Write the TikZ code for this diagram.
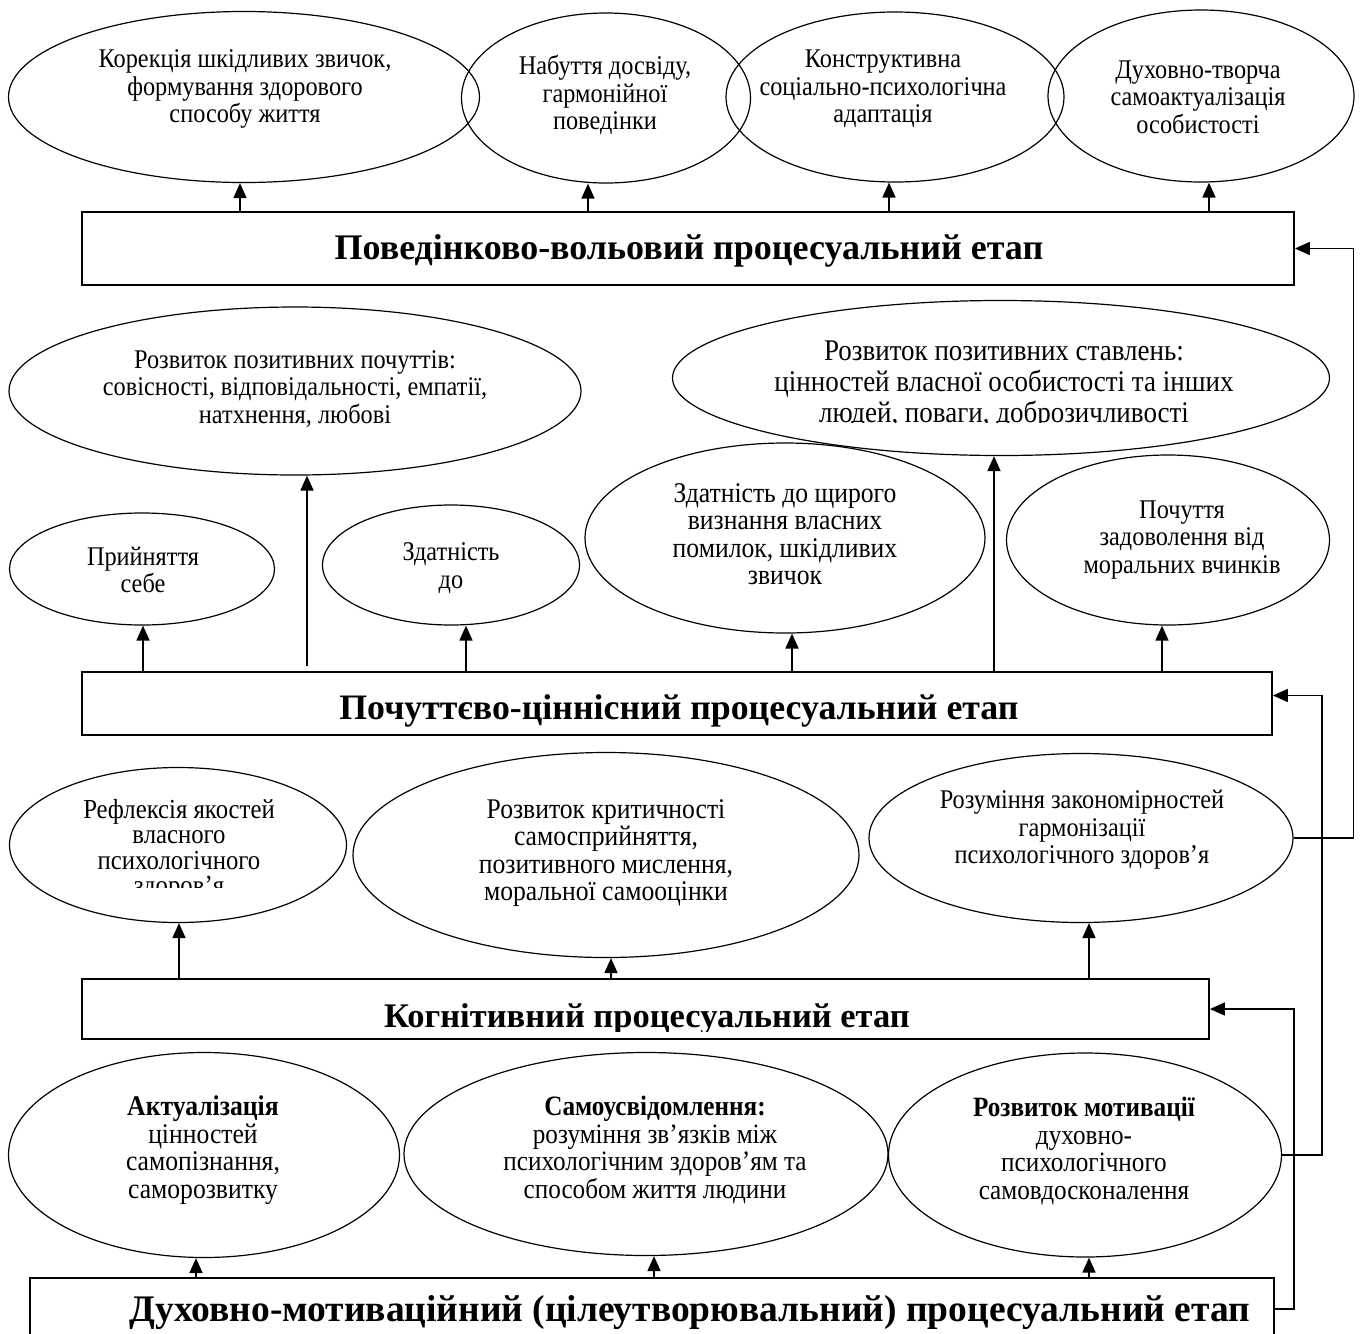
\documentclass[tikz,border=0pt]{standalone}
\usepackage{fontspec}
\setmainfont{Liberation Serif}
\newfontfamily\ellfont{Liberation Serif}[FakeStretch=0.9]
\usetikzlibrary{shapes.geometric,arrows.meta,calc}
\begin{document}
\begin{tikzpicture}[x=1pt,y=-1pt,
  ell/.style={draw, ellipse, line width=1.2pt, inner sep=0pt},
  txt/.style={align=center, font=\ellfont\fontsize{27}{27.5}\selectfont, inner sep=0pt},
  bigtxt/.style={align=center, font=\ellfont\fontsize{28.5}{27.5}\selectfont, inner sep=0pt},
  stagebox/.style={draw, rectangle, line width=1.8pt, inner sep=0pt},
  ttl/.style={inner sep=0pt, anchor=base},
  arr/.style={line width=1.7pt, -{Triangle[length=15pt,width=13pt]}}
]
\useasboundingbox (0,0) rectangle (1361,1334);

% ---------- stage boxes ----------
\node[stagebox, minimum width=1212pt, minimum height=73pt] (b1) at (688,248.5) {};
\node[stagebox, minimum width=1190pt, minimum height=63pt] (b2) at (677,703.5) {};
\node[stagebox, minimum width=1127pt, minimum height=60pt] (b3) at (645.5,1009) {};
\node[stagebox, minimum width=1244pt, minimum height=62pt] (b4) at (652,1309) {};

\node[ttl, font=\fontsize{36}{40}\selectfont\bfseries] (t1) at (689,259) {Поведінково-вольовий процесуальний етап};
\node[ttl, font=\fontsize{35.8}{40}\selectfont\bfseries] (t2) at (679,719) {Почуттєво-ціннісний процесуальний етап};
\begin{scope}
\clip (82,979) rectangle (1209,1031);
\node[ttl, font=\fontsize{34.5}{40}\selectfont\bfseries] (t3) at (647,1027) {Когнітивний процесуальний етап};
\end{scope}
\node[ttl, font=\fontsize{37.5}{40}\selectfont\bfseries] (t4) at (690,1321) {Духовно-мотиваційний (цілеутворювальний) процесуальний етап};

% ---------- row 1 ----------
\node[ell, minimum width=471pt, minimum height=171pt] (e1) at (244,97) {};
\node[ell, minimum width=289pt, minimum height=170pt] (e2) at (606,98) {};
\node[ell, minimum width=338pt, minimum height=170pt] (e3) at (895,97) {};
\node[ell, minimum width=306pt, minimum height=172pt] (e4) at (1201,96) {};
\node[txt] (x1) at (245,89) {Корекція шкідливих звичок,\\формування здорового\\способу життя};
\node[txt] (x2) at (605,95) {Набуття досвіду,\\гармонійної\\поведінки};
\node[txt] (x3) at (883,89) {Конструктивна\\соціально-психологічна\\адаптація};
\node[txt] (x4) at (1198,97) {Духовно-творча\\самоактуалізація\\особистості};

% ---------- row 2 ----------
\node[ell, minimum width=572pt, minimum height=168pt] (e5) at (295,391) {};
\node[ell, minimum width=657pt, minimum height=155pt] (e6) at (1001,378) {};
\node[ell, minimum width=265pt, minimum height=112pt] (e7) at (142,569) {};
\node[ell, minimum width=257pt, minimum height=120pt] (e8) at (451,565) {};
\node[ell, minimum width=400pt, minimum height=190pt] (e9) at (785,538) {};
\node[ell, minimum width=323pt, minimum height=170pt] (e10) at (1168,540) {};
\node[txt] (x5) at (295,389) {Розвиток позитивних почуттів:\\совісності, відповідальності, емпатії,\\натхнення, любові};
\begin{scope}
\clip (600,290) rectangle (1400,422);
\node[txt, font=\ellfont\fontsize{30}{31}\selectfont] (x6) at (1004,385) {Розвиток позитивних ставлень:\\цінностей власної особистості та інших\\людей, поваги, доброзичливості};
\end{scope}
\node[txt] (x7) at (143,570) {Прийняття\\себе};
\node[txt] (x8) at (451,568) {Здатність\\до};
\node[bigtxt] (x9) at (785,534) {Здатність до щирого\\визнання власних\\помилок, шкідливих\\звичок};
\node[txt] (x10) at (1182,540) {Почуття\\задоволення від\\моральних вчинків};

% ---------- row 3 ----------
\node[ell, minimum width=337pt, minimum height=155pt] (e11) at (178,845) {};
\node[ell, minimum width=506pt, minimum height=205pt] (e12) at (606,855) {};
\node[ell, minimum width=424pt, minimum height=169pt] (e13) at (1081,838) {};
\begin{scope}
\clip (0,760) rectangle (360,887);
\node[txt, font=\ellfont\fontsize{27.5}{25.5}\selectfont] (x11) at (179,850) {Рефлексія якостей\\власного\\психологічного\\здоров’я};
\end{scope}
\node[bigtxt] (x12) at (606,853) {Розвиток критичності\\самосприйняття,\\позитивного мислення,\\моральної самооцінки};
\node[txt] (x13) at (1082,830) {Розуміння закономірностей\\гармонізації\\психологічного здоров’я};

% ---------- row 4 ----------
\node[ell, minimum width=391pt, minimum height=205pt] (e14) at (204,1155) {};
\node[ell, minimum width=484pt, minimum height=203pt] (e15) at (646,1154) {};
\node[ell, minimum width=393pt, minimum height=204pt] (e16) at (1085,1155) {};
\node[bigtxt] (x14) at (203,1150) {\textbf{Актуалізація}\\цінностей\\самопізнання,\\саморозвитку};
\node[txt, font=\ellfont\fontsize{28}{27.5}\selectfont] (x15) at (655,1150) {\textbf{Самоусвідомлення:}\\розуміння зв’язків між\\психологічним здоров’ям та\\способом життя людини};
\node[txt, font=\ellfont\fontsize{28}{27.5}\selectfont] (x16) at (1084,1151) {\textbf{Розвиток мотивації}\\духовно-\\психологічного\\самовдосконалення};

% ---------- upward arrows ----------
\draw[arr] (b1.north -| 240,0) -- (e1.south -| 240,0);
\draw[arr] (b1.north -| 588,0) -- (e2.south -| 588,0);
\draw[arr] (b1.north -| 889,0) -- (e3.south -| 889,0);
\draw[arr] (b1.north -| 1209,0) -- (e4.south -| 1209,0);

\draw[arr] (b2.north -| 143,0) -- (e7.south -| 143,0);
\draw[arr] ($(b2.north -| 307,0)+(0,-5)$) -- (e5.south -| 307,0);
\draw[arr] (b2.north -| 466,0) -- (e8.south -| 466,0);
\draw[arr] (b2.north -| 792,0) -- (e9.south -| 792,0);
\draw[arr] (b2.north -| 994,0) -- (e6.south -| 994,0);
\draw[arr] (b2.north -| 1162,0) -- (e10.south -| 1162,0);

\draw[arr] (b3.north -| 179,0) -- (e11.south -| 179,0);
\draw[arr] (b3.north -| 611,0) -- (e12.south -| 611,0);
\draw[arr] (b3.north -| 1089,0) -- (e13.south -| 1089,0);

\draw[arr] (b4.north -| 196,0) -- (e14.south -| 196,0);
\draw[arr] (b4.north -| 654,0) -- (e15.south -| 654,0);
\draw[arr] (b4.north -| 1089,0) -- (e16.south -| 1089,0);

% ---------- feedback connectors ----------
\draw[arr] (e13.east) -- ++(60,0) |- (b1.east);
\draw[arr] (e16.east) -- ++(40,0) |- ($(b2.east)+(0,-8)$);
\draw[arr] (b4.east) -- ++(19,0) |- (b3.east);
\end{tikzpicture}
\end{document}
